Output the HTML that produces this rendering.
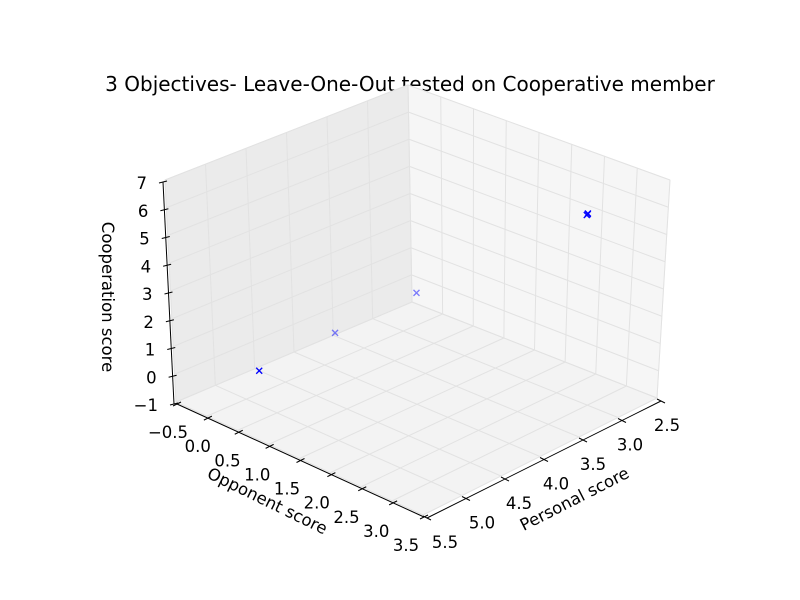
<!DOCTYPE html>
<html><head><meta charset="utf-8"><style>
html,body{margin:0;padding:0;background:#fff}
svg{display:block;font-family:"DejaVu Sans","Liberation Sans",sans-serif}
</style></head><body>
<svg id="chart" width="800" height="600" viewBox="0 0 800 600">
<rect width="800" height="600" fill="#fff"/>
<text x="410" y="91" font-size="20" text-anchor="middle" fill="#000">3 Objectives- Leave-One-Out tested on Cooperative member</text>
<g id="panes"></g><g id="grid"></g><g id="axes"></g><g id="points"></g>
<text transform="translate(265,506) rotate(26)" font-size="16.5" text-anchor="middle">Opponent score</text>
<text transform="translate(577,504) rotate(-27)" font-size="16.5" text-anchor="middle">Personal score</text>
<text transform="translate(102,297) rotate(90)" font-size="16.5" text-anchor="middle">Cooperation score</text>
</svg>
<script>
const personal=[4.9,3.86,2.75,3.05,3.07,3.04];
const opponent=[0.1,0.0,-0.1,2.95,2.96,2.94];
const coop=[0,0,0,6,6,6];
const personalTicks=["2.5","3.0","3.5","4.0","4.5","5.0","5.5"];
const opponentTicks=["\u22120.5","0.0","0.5","1.0","1.5","2.0","2.5","3.0","3.5"];
const coopTicks=["\u22121","0","1","2","3","4","5","6","7"];
const P0=2.5,P1=5.5,O0=-0.5,O1=3.5,Z0=-1,Z1=7;
const B=[412,302],L=[176,402],R=[657,398],F=[423,515];
const liftB=[-4,217],liftL=[-11,222],liftR=[13,218],liftF=[0,225];
function bil(a,b,c,d,u,v){
  return [0,1].map(i=>a[i]*(1-u)*(1-v)+b[i]*u*(1-v)+c[i]*(1-u)*v+d[i]*u*v);}
function proj(p,o,z){
  const u=(p-P0)/(P1-P0),v=(o-O0)/(O1-O0),w=(z-Z0)/(Z1-Z0);
  const f=bil(B,L,R,F,u,v),l=bil(liftB,liftL,liftR,liftF,u,v);
  return [f[0]+l[0]*w,f[1]-l[1]*w];}
const NS="http://www.w3.org/2000/svg";
function el(tag,attrs,parent){const e=document.createElementNS(NS,tag);for(const k in attrs)e.setAttribute(k,attrs[k]);document.getElementById(parent).appendChild(e);return e;}
function poly(pts){return pts.map(q=>q[0].toFixed(1)+","+q[1].toFixed(1)).join(" ");}
let e;
e=el("polygon",{points:poly([proj(P0,O0,Z0),proj(P1,O0,Z0),proj(P1,O0,Z1),proj(P0,O0,Z1)]),fill:"#ebebeb",stroke:"#eaeaea"},"panes");


e=el("polygon",{points:poly([proj(P0,O0,Z0),proj(P0,O1,Z0),proj(P0,O1,Z1),proj(P0,O0,Z1)]),fill:"#f6f6f6",stroke:"#f2f2f2"},"panes");


e=el("polygon",{points:poly([proj(P0,O0,Z0),proj(P1,O0,Z0),proj(P1,O1,Z0),proj(P0,O1,Z0)]),fill:"#f3f3f3",stroke:"#f0f0f0"},"panes");


function gl(a,b){const l=el("line",{x1:a[0],y1:a[1],x2:b[0],y2:b[1],stroke:"#e2e2e2","stroke-width":1},"grid");

}
personalTicks.forEach(t=>{const p=parseFloat(t);gl(proj(p,O0,Z0),proj(p,O1,Z0));gl(proj(p,O0,Z0),proj(p,O0,Z1));});
opponentTicks.forEach(t=>{const o=parseFloat(t.replace("\u2212","-"));gl(proj(P0,o,Z0),proj(P1,o,Z0));gl(proj(P0,o,Z0),proj(P0,o,Z1));});
coopTicks.forEach(t=>{const z=parseFloat(t.replace("\u2212","-"));gl(proj(P0,O0,z),proj(P1,O0,z));gl(proj(P0,O0,z),proj(P0,O1,z));});
function axis(name,a,b,dx,dy){const l=el("line",{x1:a[0]+dx,y1:a[1]+dy,x2:b[0]+dx,y2:b[1]+dy,stroke:"#000","stroke-width":1},"axes");

}
axis("x-axis-line",proj(P1,O0,Z0),proj(P1,O1,Z0),1,2);
axis("y-axis-line",proj(P1,O1,Z0),proj(P0,O1,Z0),4,3);
axis("z-axis-line",proj(P1,O0,Z0),proj(P1,O0,Z1),-2,2);
function tick(q,d,lab,lx,ly,anchor,name){
  const l=el("line",{x1:q[0]-d[0],y1:q[1]-d[1],x2:q[0]+d[0],y2:q[1]+d[1],stroke:"#000","stroke-width":1},"axes");
  
  
  const t=el("text",{x:q[0]+lx,y:q[1]+ly,"font-size":16.5,"text-anchor":anchor,fill:"#000"},"axes");t.textContent=lab;
  
  }
opponentTicks.forEach(t=>{const o=parseFloat(t.replace("\u2212","-"));const q=proj(P1,o,Z0);const v=(o-O0)/(O1-O0);tick([q[0]+1,q[1]+2],[4,-2],t,-9-9*v,34,"middle","x-axis");});
personalTicks.forEach(t=>{const p=parseFloat(t);const q=proj(p,O1,Z0);const u=(p-P0)/(P1-P0);tick([q[0]+4,q[1]+3],[-4,-2],t,6+12*u,30,"middle","y-axis");});
coopTicks.forEach(t=>{const z=parseFloat(t.replace("\u2212","-"));const q=proj(P1,O0,z);tick([q[0]-2,q[1]+2],[4,-1],t,-16,7,"end","z-axis");});
personal.forEach((p,i)=>{const q=proj(p,opponent[i],coop[i]);
  const n=(p-P0)/(P1-P0)+(opponent[i]-O0)/(O1-O0);
  const a=n>0.85?1:0.5;
  const g=el("path",{d:`M${q[0]-3},${q[1]-3}L${q[0]+3},${q[1]+3}M${q[0]-3},${q[1]+3}L${q[0]+3},${q[1]-3}`,stroke:"#0000ff","stroke-width":1.3,"stroke-opacity":a,fill:"none"},"points");
  
  });
</script>
</body></html>
